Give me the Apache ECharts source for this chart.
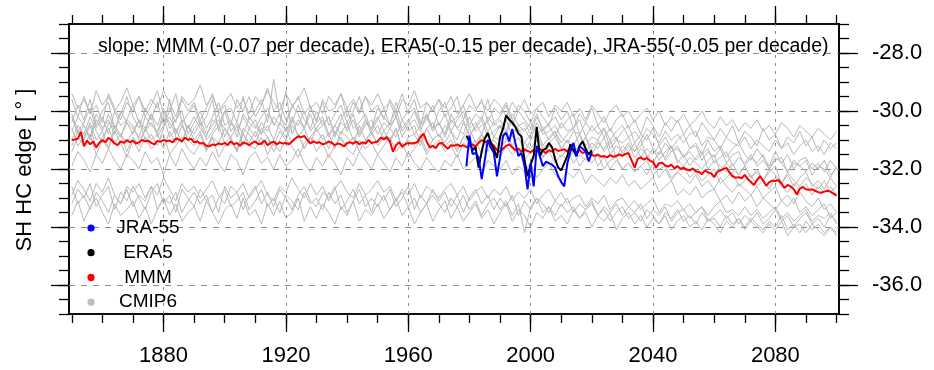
<!DOCTYPE html>
<html><head><meta charset="utf-8">
<script src="https://cdn.jsdelivr.net/npm/echarts@6/dist/echarts.min.js"></script>
<style>html,body{margin:0;padding:0;background:#fff}#c{width:934px;height:370px}</style>
</head><body><div id="c"></div>
<script>
// ---------- DATA ----------
const mmmStartYear = 1850;
const mmm = [
-31.00,-30.98,-30.95,-30.72,-31.22,-31.02,-31.15,-31.05,-31.25,-31.10,
-31.00,-31.08,-30.92,-31.00,-31.12,-31.18,-31.05,-31.10,-31.00,-31.08,
-31.02,-31.12,-31.08,-31.00,-31.05,-31.02,-31.10,-31.15,-31.03,-31.06,
-31.00,-31.04,-31.02,-31.08,-30.95,-30.98,-31.05,-30.92,-31.00,-30.95,
-31.08,-31.05,-31.12,-31.10,-31.20,-31.22,-31.15,-31.18,-31.12,-31.15,
-31.10,-31.18,-31.05,-31.15,-31.10,-31.20,-31.08,-31.12,-31.18,-31.10,
-31.05,-31.15,-31.12,-31.02,-31.18,-31.10,-31.05,-31.15,-31.08,-31.12,
-31.10,-31.15,-31.05,-30.95,-30.88,-30.90,-30.86,-31.00,-31.12,-31.05,
-31.10,-31.08,-31.15,-31.12,-31.05,-31.10,-31.18,-31.12,-31.15,-31.22,
-31.10,-31.08,-31.12,-31.05,-31.15,-31.08,-31.12,-31.00,-31.10,-31.08,
-31.05,-30.92,-30.98,-30.90,-31.05,-31.40,-31.18,-31.08,-31.22,-31.15,
-31.10,-31.12,-31.10,-31.08,-30.90,-30.78,-31.05,-31.25,-31.20,-31.28,
-31.12,-31.10,-31.22,-31.30,-31.18,-31.20,-31.15,-31.22,-31.18,-31.25,
-31.20,-31.15,-31.22,-31.10,-31.00,-31.08,-31.05,-31.10,-31.20,-31.35,
-31.40,-31.30,-31.20,-31.15,-31.25,-31.35,-31.30,-31.40,-31.32,-31.38,
-31.42,-31.35,-31.40,-31.30,-31.38,-31.45,-31.35,-31.40,-31.30,-31.38,
-31.35,-31.32,-31.40,-31.28,-31.38,-31.42,-31.35,-31.45,-31.40,-31.48,
-31.52,-31.55,-31.50,-31.58,-31.55,-31.60,-31.52,-31.58,-31.55,-31.50,
-31.55,-31.48,-31.45,-31.70,-31.95,-31.65,-31.60,-31.68,-31.62,-31.72,
-31.75,-31.95,-31.80,-31.78,-31.88,-31.92,-31.85,-31.98,-31.90,-32.00,
-31.95,-32.02,-32.05,-31.98,-32.08,-32.10,-32.18,-32.05,-32.12,-32.15,
-32.28,-32.10,-32.05,-32.00,-31.96,-32.12,-32.25,-32.30,-32.28,-32.32,
-32.20,-32.35,-32.45,-32.55,-32.38,-32.25,-32.40,-32.58,-32.45,-32.40,
-32.42,-32.38,-32.50,-32.65,-32.55,-32.60,-32.70,-32.88,-32.68,-32.62,
-32.70,-32.72,-32.70,-32.75,-32.80,-32.82,-32.78,-32.75,-32.78,-32.85,
-32.92];

const reanalysisStartYear = 1979;
const era5 = [
-30.85,-31.05,-31.35,-31.25,-31.95,-31.40,-30.95,-30.75,-31.10,-31.30,
-31.62,-30.90,-30.60,-30.15,-30.30,-30.40,-30.55,-30.78,-30.88,-31.70,
-32.25,-31.85,-31.55,-30.55,-31.55,-31.35,-31.30,-31.10,-31.25,-31.65,
-31.95,-32.05,-31.80,-31.55,-31.15,-31.35,-31.55,-31.20,-31.05,-31.30,
-31.50,-31.35];
const jra55 = [
-31.90,-30.85,-31.48,-31.45,-31.60,-32.35,-31.70,-31.00,-31.25,-31.45,
-32.25,-31.60,-30.85,-30.75,-31.05,-30.62,-31.10,-31.55,-31.45,-31.90,
-32.70,-31.80,-32.60,-31.20,-31.55,-31.90,-31.75,-31.80,-31.85,-31.95,
-32.25,-32.45,-32.60,-31.80,-31.40,-31.10,-31.55,-31.22,-31.30,-31.40,
-31.74,-31.42];

// CMIP6 models, sampled every 2 years from 1850 to 2100
const cmipStartYear = 1850, cmipStepYears = 2;
const cmipA = [
-29.6,-30.2,-29.5,-30.1,-29.8,-30.4,-29.4,-29.9,-30.3,-29.7,
-30.0,-29.5,-30.2,-29.8,-29.3,-30.1,-29.9,-30.4,-29.6,-30.0,
-29.7,-30.3,-29.9,-29.4,-30.1,-29.8,-30.5,-29.6,-30.0,-29.5,
-30.2,-29.8,-29.2,-30.0,-29.7,-30.3,-29.9,-29.5,-30.1,-29.8,
-30.4,-29.6,-30.0,-29.9,-29.4,-30.2,-29.7,-30.1,-29.5,-30.0,
-29.8,-30.3,-29.6,-30.0,-29.4,-30.1,-29.9,-30.5,-29.7,-30.0,
-29.6,-30.2,-29.9,-29.5,-30.3,-29.8,-30.0,-29.6,-30.4,-29.9,
-30.1,-29.7,-30.3,-29.8,-30.0,-30.4,-29.9,-30.2,-30.5,-29.9,
-30.3,-30.0,-30.6,-30.1,-30.4,-29.9,-30.5,-30.2,-30.7,-30.3,
-30.1,-30.6,-30.3,-30.8,-30.2,-30.5,-30.9,-30.4,-30.7,-30.3,
-30.8,-30.5,-30.9,-30.4,-30.7,-31.0,-30.6,-30.9,-30.5,-31.1,
-30.7,-30.9,-31.2,-30.6,-31.0,-30.8,-31.3,-30.9,-31.1,-30.7,
-31.2,-30.9,-31.4,-31.0,-31.3,-31.1];
const cmipB = [
-30.4,-29.8,-30.3,-29.6,-30.5,-30.0,-29.7,-30.6,-30.1,-29.5,
-30.2,-30.6,-29.9,-30.3,-29.7,-30.5,-30.0,-29.4,-30.4,-30.1,
-29.8,-30.5,-30.2,-29.6,-30.7,-30.0,-29.9,-30.4,-29.5,-30.3,
-30.0,-29.6,-30.4,-28.9,-30.2,-30.5,-29.8,-30.1,-30.6,-29.9,
-30.3,-29.7,-30.5,-30.1,-29.8,-30.4,-30.0,-29.5,-30.3,-30.6,
-29.9,-30.2,-30.5,-29.7,-30.3,-30.0,-29.6,-30.4,-30.1,-30.6,
-30.0,-29.7,-30.4,-30.2,-29.8,-30.5,-30.1,-30.3,-29.6,-30.4,
-30.2,-29.8,-30.5,-30.0,-30.3,-30.6,-30.1,-30.7,-30.4,-30.2,
-30.6,-30.3,-30.1,-30.8,-30.4,-30.7,-30.5,-30.9,-30.6,-31.0,
-30.7,-30.5,-31.1,-30.8,-31.0,-30.6,-31.2,-30.9,-31.3,-31.0,
-30.8,-31.3,-31.1,-31.5,-31.0,-31.4,-31.2,-31.6,-31.3,-31.1,
-31.5,-31.7,-31.3,-31.6,-31.9,-31.4,-31.8,-31.5,-32.0,-31.7,
-31.6,-32.0,-31.8,-32.1,-31.7,-32.0];
const cmipC = [
-30.1,-30.7,-30.4,-29.9,-30.6,-30.2,-30.8,-30.0,-30.5,-30.3,
-29.8,-30.4,-30.7,-30.1,-30.5,-29.9,-30.6,-30.3,-30.0,-30.8,
-30.4,-30.0,-30.6,-30.2,-29.7,-30.5,-30.3,-30.9,-30.1,-30.4,
-30.6,-30.2,-29.9,-30.5,-30.1,-30.7,-30.4,-29.8,-30.3,-30.6,
-30.0,-30.5,-30.2,-30.8,-30.3,-29.9,-30.6,-30.4,-30.1,-30.7,
-30.3,-29.9,-30.5,-30.2,-30.7,-30.4,-30.0,-30.6,-30.3,-29.8,
-30.5,-30.1,-30.7,-30.3,-30.0,-30.6,-30.4,-30.8,-30.2,-30.5,
-30.3,-30.7,-30.1,-30.5,-30.4,-30.8,-30.2,-30.6,-30.5,-30.9,
-30.4,-30.7,-30.6,-30.3,-30.9,-30.5,-30.8,-30.6,-31.0,-30.7,
-30.5,-30.9,-30.7,-31.0,-30.6,-30.8,-31.1,-30.7,-31.0,-30.8,
-31.1,-30.8,-30.7,-31.2,-30.9,-31.0,-31.3,-30.9,-31.1,-31.2,
-30.9,-31.3,-31.0,-31.2,-31.4,-31.0,-31.3,-31.1,-31.5,-31.2,
-31.0,-31.4,-31.2,-31.5,-31.1,-31.3];
const cmipD = [
-30.7,-30.2,-30.5,-30.9,-30.1,-30.6,-30.3,-30.8,-30.0,-30.4,
-30.6,-30.9,-30.2,-30.5,-30.7,-30.1,-30.4,-30.8,-30.3,-30.6,
-30.2,-30.6,-30.9,-30.3,-30.5,-30.0,-30.7,-30.4,-30.8,-30.2,
-30.5,-30.8,-30.1,-30.4,-30.6,-30.9,-30.3,-30.5,-30.0,-30.7,
-30.4,-30.2,-30.8,-30.5,-30.1,-30.7,-30.3,-30.9,-30.4,-30.6,
-30.2,-30.7,-30.4,-30.0,-30.6,-30.3,-30.8,-30.5,-30.2,-30.7,
-30.4,-30.8,-30.1,-30.6,-30.3,-30.9,-30.5,-30.2,-30.7,-30.4,
-30.6,-30.3,-30.9,-30.5,-30.7,-30.4,-30.8,-30.6,-31.0,-30.7,
-31.1,-30.8,-30.6,-31.2,-30.9,-31.3,-31.0,-31.4,-31.1,-30.9,
-31.5,-31.2,-31.4,-31.0,-31.6,-31.3,-31.7,-31.4,-31.2,-31.8,
-31.5,-31.9,-31.6,-31.4,-32.0,-31.7,-31.9,-32.1,-31.8,-32.2,
-31.9,-32.3,-32.0,-32.4,-32.1,-31.9,-32.5,-32.2,-32.6,-32.3,
-32.1,-32.6,-32.4,-32.7,-32.3,-32.6];
const cmipE = [
-30.2,-30.8,-30.5,-31.0,-30.3,-30.7,-30.1,-30.6,-30.9,-30.4,
-30.8,-30.3,-30.6,-30.1,-30.9,-30.5,-30.2,-30.7,-30.4,-31.0,
-30.6,-30.3,-30.8,-30.5,-30.1,-30.9,-30.4,-30.7,-30.2,-30.6,
-30.9,-30.4,-30.7,-30.2,-30.5,-29.3,-30.8,-30.3,-30.6,-30.1,
-30.7,-30.5,-30.2,-30.9,-30.4,-30.6,-30.1,-30.8,-30.5,-30.3,
-30.8,-30.4,-30.6,-30.2,-30.9,-30.5,-30.3,-30.7,-30.1,-30.6,
-30.4,-30.9,-30.3,-30.6,-30.8,-30.2,-30.7,-30.5,-30.4,-30.9,
-30.5,-30.8,-30.3,-30.7,-30.6,-31.0,-30.4,-30.8,-30.7,-30.5,
-30.9,-31.1,-30.7,-30.8,-31.2,-30.9,-31.0,-30.6,-31.3,-31.0,
-31.1,-30.9,-31.4,-31.2,-30.8,-31.3,-31.5,-31.1,-31.4,-31.2,
-31.6,-31.3,-31.2,-31.7,-31.4,-31.6,-31.3,-31.8,-31.5,-31.4,
-31.9,-31.6,-31.8,-31.5,-32.0,-31.7,-31.6,-32.1,-31.8,-31.9,
-31.7,-32.2,-31.9,-32.0,-32.3,-31.9];
const cmipF = [
-31.0,-30.5,-30.8,-30.2,-30.7,-31.1,-30.4,-30.6,-30.9,-30.3,
-30.5,-31.0,-30.7,-30.4,-30.8,-30.2,-30.9,-30.6,-31.1,-30.5,
-30.8,-30.4,-31.0,-30.7,-30.3,-30.6,-30.9,-30.5,-31.2,-30.6,
-30.3,-30.8,-30.5,-31.0,-30.4,-30.7,-30.2,-30.9,-30.6,-31.1,
-30.6,-30.3,-30.9,-30.5,-30.8,-30.4,-31.0,-30.7,-30.3,-30.8,
-30.5,-31.0,-30.6,-30.9,-30.3,-30.7,-30.5,-31.1,-30.6,-30.4,
-30.9,-30.5,-30.7,-31.0,-30.4,-30.8,-30.6,-30.3,-30.9,-30.7,
-30.5,-31.0,-30.7,-30.6,-31.1,-30.8,-30.6,-31.2,-30.9,-30.7,
-31.3,-31.0,-31.2,-30.8,-31.4,-31.1,-31.3,-30.9,-31.5,-31.2,
-31.4,-31.1,-31.6,-31.3,-31.5,-31.8,-31.4,-31.6,-31.2,-31.7,
-31.9,-31.6,-31.8,-32.0,-31.7,-31.5,-32.1,-31.8,-32.0,-32.2,
-31.9,-32.3,-32.1,-32.4,-32.0,-32.2,-32.5,-32.1,-32.4,-32.6,
-32.3,-32.5,-32.7,-32.4,-32.8,-32.6];
const cmipG = [
-30.6,-31.2,-30.9,-30.4,-31.0,-30.7,-31.3,-30.5,-30.8,-31.1,
-30.7,-30.3,-31.0,-30.8,-31.2,-30.6,-29.6,-30.9,-31.1,-30.5,
-31.0,-30.7,-31.3,-30.8,-30.5,-31.1,-30.9,-31.4,-30.6,-30.8,
-31.1,-30.6,-30.9,-31.2,-30.7,-31.0,-30.5,-30.8,-31.3,-30.9,
-30.6,-31.0,-30.8,-31.3,-30.7,-30.9,-31.2,-30.5,-31.0,-30.8,
-31.1,-30.7,-31.0,-30.6,-31.3,-30.9,-30.8,-31.2,-30.6,-31.0,
-30.8,-31.1,-30.7,-31.3,-30.9,-30.6,-31.1,-30.8,-31.4,-30.9,
-31.0,-30.7,-31.2,-30.9,-31.4,-31.0,-30.8,-31.3,-31.1,-30.9,
-31.3,-31.0,-31.4,-31.2,-30.9,-31.5,-31.1,-31.3,-31.0,-31.6,
-31.2,-31.4,-31.1,-31.6,-31.3,-31.5,-31.2,-31.7,-31.4,-31.3,
-31.6,-31.4,-31.7,-31.5,-31.3,-31.8,-31.6,-31.4,-31.9,-31.6,
-31.8,-31.5,-31.9,-31.7,-32.0,-31.6,-31.8,-32.1,-31.7,-31.9,
-32.1,-31.8,-32.0,-31.7,-32.2,-32.0];
const cmipH = [
-31.2,-30.7,-31.0,-30.5,-31.3,-30.9,-30.6,-31.1,-30.8,-31.4,
-30.9,-31.2,-30.6,-31.0,-30.8,-31.3,-30.7,-31.1,-30.5,-31.0,
-31.2,-30.8,-31.4,-30.9,-31.1,-30.6,-31.0,-31.3,-30.8,-31.1,
-30.7,-31.2,-30.9,-31.4,-31.0,-30.6,-31.1,-30.8,-31.3,-30.9,
-31.1,-30.8,-31.3,-30.7,-31.0,-31.2,-30.9,-31.4,-31.0,-30.7,
-31.2,-30.9,-31.1,-30.6,-31.3,-31.0,-31.2,-30.8,-31.4,-31.0,
-30.8,-31.2,-31.0,-31.4,-30.9,-31.1,-31.3,-30.8,-31.2,-31.0,
-31.3,-31.0,-31.2,-31.5,-31.1,-31.3,-31.0,-31.6,-31.2,-31.4,
-31.6,-31.3,-31.8,-31.5,-31.7,-31.4,-31.9,-31.6,-32.0,-31.7,
-32.0,-31.8,-32.1,-31.9,-32.2,-31.8,-32.3,-32.0,-32.4,-32.1,
-32.3,-32.5,-32.2,-32.6,-32.4,-32.7,-32.3,-32.6,-32.8,-32.5,
-32.7,-32.9,-32.6,-33.0,-32.8,-32.6,-33.1,-32.9,-33.2,-32.8,
-33.1,-33.3,-33.0,-33.4,-33.2,-33.5];
const cmipI = [
-31.4,-30.9,-31.2,-30.8,-31.5,-31.0,-31.3,-30.7,-31.1,-31.6,
-31.0,-31.4,-30.9,-31.3,-31.1,-30.8,-31.5,-31.2,-30.9,-31.3,
-31.5,-31.1,-31.3,-30.9,-31.6,-31.2,-31.0,-31.4,-30.8,-31.2,
-31.3,-30.9,-31.5,-31.1,-31.4,-31.0,-31.2,-31.6,-31.1,-30.9,
-31.4,-31.1,-31.6,-31.2,-30.9,-31.3,-31.5,-31.0,-31.3,-31.1,
-31.5,-31.2,-30.9,-31.4,-31.1,-31.6,-31.3,-31.0,-31.5,-31.2,
-31.0,-31.4,-31.2,-31.6,-31.1,-31.3,-31.0,-31.5,-31.2,-31.4,
-31.6,-31.2,-31.5,-31.3,-31.7,-31.4,-31.2,-31.6,-31.4,-31.8,
-31.5,-31.7,-31.4,-31.9,-31.6,-31.8,-31.5,-32.0,-31.7,-31.6,
-32.0,-31.8,-32.1,-31.9,-31.7,-32.2,-32.0,-31.9,-32.3,-32.1,
-31.9,-32.3,-32.1,-32.4,-32.2,-32.0,-32.5,-32.3,-32.1,-32.6,
-32.4,-32.2,-32.6,-32.4,-32.7,-32.3,-32.6,-32.8,-32.5,-32.7,
-32.5,-32.9,-32.6,-32.8,-32.6,-32.9];
const cmipJ = [
-31.9,-31.4,-31.7,-32.1,-31.5,-31.8,-31.3,-31.7,-32.0,-31.5,
-31.7,-32.0,-31.4,-31.8,-31.6,-32.2,-31.5,-31.9,-31.3,-31.7,
-32.0,-31.6,-31.9,-31.4,-31.8,-32.1,-31.5,-31.7,-32.2,-31.6,
-31.4,-31.8,-31.6,-32.0,-31.5,-31.9,-31.7,-31.3,-31.8,-32.1,
-31.6,-31.9,-31.5,-31.8,-32.2,-31.6,-31.9,-31.4,-31.7,-32.0,
-31.5,-31.8,-32.1,-31.6,-31.9,-31.4,-31.8,-32.0,-31.6,-31.9,
-32.1,-31.7,-31.9,-31.5,-32.0,-31.8,-31.6,-32.2,-31.7,-31.9,
-32.0,-31.7,-32.2,-31.9,-32.1,-31.8,-32.3,-32.0,-31.8,-32.2,
-32.4,-32.1,-32.3,-32.0,-32.5,-32.2,-32.4,-32.6,-32.3,-32.5,
-32.2,-32.6,-32.4,-32.7,-32.5,-32.3,-32.8,-32.6,-32.4,-32.9,
-32.7,-32.9,-32.6,-33.0,-32.8,-32.7,-33.1,-32.9,-33.2,-32.8,
-33.1,-32.9,-33.3,-33.0,-33.2,-33.4,-33.1,-33.3,-33.0,-33.5,
-33.3,-33.6,-33.4,-33.2,-33.7,-33.5];
const cmipK = [
-32.9,-32.4,-32.7,-33.1,-32.5,-32.8,-32.3,-32.9,-33.2,-32.6,
-32.8,-32.5,-33.0,-32.6,-32.9,-32.3,-32.7,-33.1,-32.5,-32.8,
-32.6,-33.0,-32.7,-32.4,-32.9,-33.2,-32.6,-32.8,-32.5,-33.0,
-32.7,-32.4,-32.9,-33.1,-32.6,-32.8,-32.3,-32.7,-33.0,-32.5,
-32.9,-32.6,-33.1,-32.7,-32.4,-32.8,-33.0,-32.5,-32.9,-32.7,
-32.4,-32.8,-32.6,-33.1,-32.7,-32.9,-32.5,-33.0,-32.6,-32.8,
-33.0,-32.7,-32.5,-32.9,-32.6,-33.1,-32.8,-32.6,-33.0,-32.7,
-32.9,-32.6,-33.1,-32.8,-33.0,-32.7,-33.2,-32.9,-32.7,-33.1,
-32.8,-33.2,-33.0,-32.9,-33.3,-33.0,-33.2,-32.9,-33.4,-33.1,
-33.0,-33.3,-33.1,-33.4,-33.2,-33.0,-33.5,-33.2,-33.3,-33.1,
-33.4,-33.2,-33.5,-33.3,-33.6,-33.3,-33.1,-33.5,-33.4,-33.6,
-33.3,-33.6,-33.4,-33.7,-33.5,-33.3,-33.7,-33.5,-33.8,-33.6,
-33.4,-33.8,-33.6,-33.7,-33.5,-33.9];
const cmipL = [
-32.6,-33.2,-32.9,-33.4,-32.8,-33.1,-33.5,-32.9,-33.2,-32.7,
-33.3,-32.9,-33.1,-32.6,-33.4,-33.0,-33.2,-32.8,-33.5,-33.1,
-32.8,-33.2,-32.9,-33.5,-33.0,-32.7,-33.3,-33.1,-32.8,-33.4,
-33.1,-32.7,-33.3,-33.0,-33.5,-32.9,-33.1,-33.4,-32.8,-33.2,
-33.0,-33.4,-32.8,-33.2,-32.9,-33.5,-33.1,-32.7,-33.3,-33.0,
-33.3,-32.9,-33.4,-33.1,-32.8,-33.3,-33.0,-33.5,-33.2,-32.9,
-33.2,-33.5,-33.0,-33.3,-32.9,-33.4,-33.1,-33.6,-33.2,-33.0,
-33.4,-33.1,-33.6,-33.2,-34.2,-33.3,-33.0,-33.5,-33.3,-33.6,
-33.2,-33.5,-33.3,-33.7,-33.4,-33.2,-33.6,-33.4,-33.8,-33.5,
-33.3,-33.7,-33.5,-33.8,-33.4,-33.6,-33.9,-33.5,-33.7,-33.4,
-33.8,-33.6,-33.9,-33.5,-33.8,-33.7,-34.0,-33.6,-33.9,-33.7,
-34.0,-33.7,-33.9,-34.1,-33.8,-34.0,-33.6,-34.1,-33.9,-34.2,
-33.8,-34.1,-33.9,-34.2,-34.0,-34.3];
const cmipM = [
-33.6,-33.1,-33.8,-33.3,-33.0,-33.5,-33.9,-33.2,-33.6,-33.4,
-33.1,-33.7,-33.3,-33.9,-33.4,-33.0,-33.6,-33.2,-33.8,-33.5,
-33.3,-33.8,-33.1,-33.5,-33.9,-33.4,-33.2,-33.7,-33.0,-33.6,
-33.4,-33.9,-33.2,-33.6,-33.1,-33.7,-33.5,-33.0,-33.8,-33.3,
-33.7,-33.2,-33.5,-33.9,-33.3,-33.6,-33.1,-33.8,-33.4,-33.6,
-33.2,-33.7,-33.4,-33.0,-33.6,-33.3,-33.9,-33.5,-33.2,-33.8,
-33.4,-33.1,-33.7,-33.3,-33.8,-33.5,-33.2,-33.7,-33.4,-33.9,
-33.5,-33.2,-33.8,-33.4,-33.6,-34.0,-33.5,-33.7,-33.3,-33.8,
-33.6,-33.9,-33.4,-33.7,-33.5,-34.0,-33.6,-33.8,-33.5,-34.1,
-33.7,-33.5,-33.9,-33.6,-34.0,-33.7,-33.9,-33.6,-34.1,-33.8,
-33.6,-34.0,-33.8,-34.1,-33.7,-33.9,-34.2,-33.8,-34.0,-33.7,
-34.1,-33.8,-34.0,-34.2,-33.9,-34.1,-33.8,-34.3,-34.0,-33.9,
-34.2,-33.9,-34.1,-34.3,-34.0,-34.2];
const cmipN = [
-33.2,-32.7,-33.0,-32.5,-33.3,-32.9,-32.6,-33.4,-32.8,-33.1,
-32.6,-33.0,-33.4,-32.8,-32.5,-33.2,-32.9,-33.5,-32.7,-33.0,
-33.3,-32.7,-33.1,-32.9,-33.5,-32.6,-33.0,-32.8,-33.4,-32.9,
-32.6,-33.2,-32.8,-33.3,-32.7,-33.0,-33.4,-32.9,-32.6,-33.1,
-33.3,-32.8,-33.0,-32.6,-33.4,-33.1,-32.7,-33.2,-32.9,-33.5,
-32.8,-33.1,-32.7,-33.3,-33.0,-32.6,-33.4,-32.9,-33.2,-32.7,
-33.1,-32.8,-33.3,-32.9,-33.5,-33.0,-32.7,-33.2,-32.9,-33.4,
-33.0,-33.3,-32.9,-33.6,-33.1,-33.4,-33.0,-33.2,-33.5,-33.1,
-33.3,-33.0,-33.5,-33.2,-33.4,-33.1,-33.6,-33.3,-33.5,-33.2,
-33.6,-33.3,-33.5,-33.2,-33.7,-33.4,-33.6,-33.3,-33.8,-33.5,
-33.4,-33.7,-33.5,-33.3,-33.8,-33.6,-33.4,-33.7,-33.5,-33.9,
-33.6,-33.8,-33.5,-33.9,-33.7,-33.4,-33.8,-33.6,-34.0,-33.7,
-33.5,-33.9,-33.7,-34.0,-33.6,-33.8];
const cmipO = [
-29.4,-29.9,-29.6,-30.1,-29.3,-29.8,-29.5,-30.0,-29.7,-29.2,
-29.8,-29.5,-30.0,-29.6,-29.9,-29.3,-29.7,-30.2,-29.5,-29.8,
-29.6,-29.1,-29.8,-29.5,-30.0,-29.7,-29.4,-29.9,-29.6,-30.1,
-29.5,-29.8,-29.3,-29.7,-30.0,-29.4,-29.8,-29.6,-29.2,-29.9,
-29.7,-30.1,-29.5,-29.8,-29.4,-29.9,-29.6,-30.0,-29.5,-29.8,
-29.4,-29.9,-29.7,-30.2,-29.6,-29.8,-29.3,-29.9,-29.7,-30.0,
-29.6,-29.9,-29.5,-30.1,-29.8,-29.4,-29.9,-29.7,-30.0,-29.6,
-29.8,-30.2,-29.7,-30.0,-29.6,-30.1,-29.9,-29.7,-30.2,-29.8,
-30.0,-29.7,-30.2,-29.9,-30.3,-29.8,-30.1,-30.4,-30.0,-29.8,
-30.2,-30.0,-30.4,-30.1,-29.9,-30.3,-30.0,-30.5,-30.2,-30.4,
-30.1,-30.5,-30.3,-30.0,-30.4,-30.6,-30.2,-30.5,-30.3,-30.7,
-30.4,-30.6,-30.3,-30.7,-30.5,-30.8,-30.4,-30.6,-30.9,-30.5,
-30.7,-30.9,-30.6,-30.8,-31.0,-30.7];
const cmip6Models = [cmipA, cmipB, cmipC, cmipD, cmipE, cmipF, cmipG, cmipH,
                     cmipI, cmipJ, cmipK, cmipL, cmipM, cmipN, cmipO];

// ticks / labels
const xMajorTicks = [1880, 1920, 1960, 2000, 2040, 2080];
const xMinorTicks = [1850,1860,1870,1880,1890,1900,1910,1920,1930,1940,1950,1960,1970,
                     1980,1990,2000,2010,2020,2030,2040,2050,2060,2070,2080,2090,2100];
const yMajorTicks = [-36, -34, -32, -30, -28];
const yMinorTicks = [-37,-36.5,-36,-35.5,-35,-34.5,-34,-33.5,-33,-32.5,-32,-31.5,-31,
                     -30.5,-30,-29.5,-29,-28.5,-28,-27.5,-27];
const slopeText = 'slope: MMM (-0.07 per decade), ERA5(-0.15 per decade), JRA-55(-0.05 per decade)';
const yTitle = 'SH HC edge [ \u00B0 ]';
const legendItems = [
  { name: 'JRA-55', color: '#0000ff' },
  { name: 'ERA5',   color: '#000000' },
  { name: 'MMM',    color: '#ff0000' },
  { name: 'CMIP6',  color: '#bebebe' }
];

// ---------- CHART ----------
function pairs(start, step, vals) { return vals.map((v, i) => [start + i * step, v]); }

const X_MIN = 1849.1, X_MAX = 2100.8, Y_MIN = -37, Y_MAX = -27;
const FONT = '"Liberation Sans", Arial, Helvetica, sans-serif';
const axisLineStyle = { show: true, lineStyle: { color: '#000', width: 1.6 } };

function xAxisDef(pos, ticks, len, withLabels) {
  return {
    type: 'value', min: X_MIN, max: X_MAX, position: pos,
    axisLine: axisLineStyle,
    axisTick: { show: true, inside: false, length: len, customValues: ticks,
                lineStyle: { color: '#000', width: 1.3 } },
    axisLabel: withLabels ? { show: true, customValues: ticks, fontSize: 22, color: '#000',
                              fontFamily: FONT, margin: 31,
                              formatter: v => String(Math.round(v)) } : { show: false },
    splitLine: { show: false }
  };
}
function yAxisDef(pos, ticks, len, withLabels) {
  return {
    type: 'value', min: Y_MIN, max: Y_MAX, position: pos,
    axisLine: axisLineStyle,
    axisTick: { show: true, inside: false, length: len, customValues: ticks,
                lineStyle: { color: '#000', width: 1.3 } },
    axisLabel: withLabels ? { show: true, customValues: ticks, fontSize: 22, color: '#000',
                              fontFamily: FONT, margin: 33,
                              formatter: v => Number(v).toFixed(1) } : { show: false },
    splitLine: { show: false }
  };
}

const series = [];
cmip6Models.forEach((m, k) => {
  const s = {
    type: 'line', name: 'CMIP6', data: pairs(cmipStartYear, cmipStepYears, m),
    xAxisIndex: 0, yAxisIndex: 0, showSymbol: false, symbol: 'none', silent: true,
    lineStyle: { color: '#b9b9b9', width: 1 }, z: 3, animation: false
  };
  if (k === 0) {
    s.markLine = {
      silent: true, symbol: ['none', 'none'], animation: false, label: { show: false },
      z: 1,
      data: [
        ...yMajorTicks.map(v => ({ yAxis: v, lineStyle: { type: [6, 6], color: '#8c8c8c', width: 1 } })),
        ...xMajorTicks.map(v => ({ xAxis: v, lineStyle: { type: [3, 5], color: '#8c8c8c', width: 1 } }))
      ]
    };
  }
  series.push(s);
});
series.push({ type: 'line', name: 'MMM', data: pairs(mmmStartYear, 1, mmm), showSymbol: false, symbol: 'none',
  lineStyle: { color: '#ff0000', width: 2 }, z: 4, animation: false, silent: true });
series.push({ type: 'line', name: 'ERA5', data: pairs(reanalysisStartYear, 1, era5), showSymbol: false, symbol: 'none',
  lineStyle: { color: '#000000', width: 2 }, z: 5, animation: false, silent: true });
series.push({ type: 'line', name: 'JRA-55', data: pairs(reanalysisStartYear, 1, jra55), showSymbol: false, symbol: 'none',
  lineStyle: { color: '#0000ff', width: 2 }, z: 6, animation: false, silent: true });

const graphic = [
  { type: 'text', left: 98, top: 37, z: 10,
    style: { text: slopeText, font: '19.5px ' + FONT, fill: '#000' } },
  { type: 'text', x: 25, y: 170, rotation: Math.PI / 2, z: 10,
    style: { text: yTitle, font: '22px ' + FONT, fill: '#000', align: 'center', verticalAlign: 'middle' } }
];
legendItems.forEach((it, i) => {
  const cy = 228 + i * 24.7;
  graphic.push({ type: 'circle', z: 10, shape: { cx: 91, cy: cy, r: 3.6 }, style: { fill: it.color } });
  graphic.push({ type: 'text', z: 10, x: 148, y: cy,
    style: { text: it.name, font: '19px ' + FONT, fill: '#000', align: 'center', verticalAlign: 'middle' } });
});

const chart = echarts.init(document.getElementById('c'), null, { renderer: 'canvas' });
chart.setOption({
  animation: false,
  backgroundColor: '#fff',
  grid: { left: 69, right: 95, top: 24, bottom: 56, containLabel: false },
  xAxis: [
    xAxisDef('bottom', xMinorTicks, 9, false),
    xAxisDef('bottom', xMajorTicks, 18, true),
    xAxisDef('top', xMinorTicks, 9, false),
    xAxisDef('top', xMajorTicks, 18, false)
  ],
  yAxis: [
    yAxisDef('left', yMinorTicks, 10, false),
    yAxisDef('left', yMajorTicks, 18, false),
    yAxisDef('right', yMinorTicks, 10, false),
    yAxisDef('right', yMajorTicks, 19, true)
  ],
  series: series,
  graphic: graphic
});
</script>
</body></html>
